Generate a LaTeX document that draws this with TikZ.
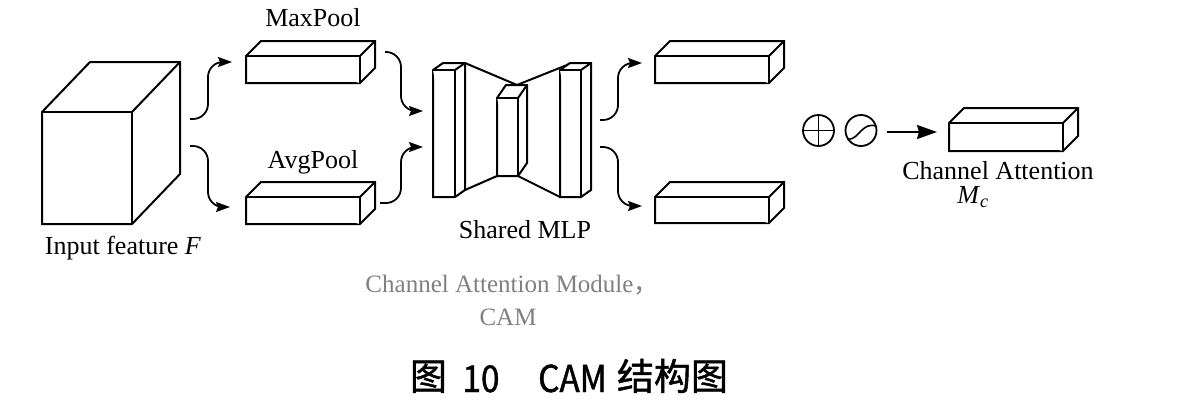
\documentclass[tikz,border=0pt]{standalone}
\usepackage{fontspec}
\setmainfont{Liberation Serif}
\newfontfamily\cjk{Noto Sans CJK SC}
\newfontfamily\cjkb[FakeBold=1.2]{Noto Sans CJK SC}
\newfontfamily\cjkn[FakeBold=1.2,FakeStretch=0.9]{Noto Sans CJK SC}
\usetikzlibrary{arrows.meta}
\definecolor{capgray}{RGB}{128,128,128}
\tikzset{
  box/.style={line width=2pt, fill=white, line join=miter},
  edge/.style={line width=1.8pt, rounded corners=15pt, -{Stealth[length=14pt,width=10pt,inset=2pt]}},
  bigarrow/.style={line width=1.8pt, -{Stealth[length=20pt,width=14pt,inset=2pt]}},
  lbl/.style={font=\fontsize{26}{30}\selectfont, inner sep=0pt},
  graylbl/.style={font=\fontsize{25}{30}\selectfont, inner sep=0pt, text=capgray},
  op/.style={circle, draw, line width=1.8pt, minimum size=31pt, inner sep=0pt},
  figcap/.style={inner sep=0pt, anchor=base},
}
% name, x1, y1, x2, y2, dx, dy  (front face corners, depth offset)
\newcommand\prismbox[7]{%
  \draw[box] (#2,#3) -- ({#2+#6},{#3+#7}) -- ({#4+#6},{#3+#7}) -- ({#4+#6},{#5+#7})
        -- (#4,#5) -- (#2,#5) -- cycle;
  \draw[box] (#2,#3) -- (#4,#3) -- (#4,#5);
  \draw[box] (#4,#3) -- ({#4+#6},{#3+#7});
  \coordinate (#1-w) at (#2,{(#3+#5)/2});
}
\begin{document}
\begin{tikzpicture}[x=1pt,y=-1pt]
\path[fill=white] (0,0) rectangle (1204,402);
\useasboundingbox (0,0) rectangle (1204,402);

% input cube
\prismbox{cube}{42}{112}{132}{224}{48}{-50}
\node[lbl] (inlbl) at (123,248) {Input feature \textit{F}};

% pooling boxes
\prismbox{mp}{246}{56}{360}{83}{15}{-15}
\node[lbl] (mplbl) at (313,18) {MaxPool};
\prismbox{ap}{246}{197}{360}{224}{15}{-15}
\node[lbl] (aplbl) at (313,162) {AvgPool};

% shared MLP
\coordinate (mtop) at (517,85);
\draw[box] (465,63) -- (mtop) -- (572,63);
\draw[box] (465,190) -- (497,176);
\draw[box] (518,176) -- (560,197);
\prismbox{mlpa}{433}{70}{455}{197}{10}{-7}
\prismbox{mlpb}{497}{98}{518}{176}{9}{-13}
\prismbox{mlpc}{560}{70}{581}{197}{10}{-7}
\node[lbl] (mlplbl) at (525,230) {Shared MLP};

% output boxes
\prismbox{r1}{655}{56}{769}{83}{15}{-15}
\prismbox{r2}{655}{197}{769}{223}{15}{-15}

% connectors
\coordinate (co1) at (190,119);
\coordinate (co2) at (190,146);
\coordinate (mpi) at (232,62);
\coordinate (api) at (230,207);
\coordinate (mpo) at (385,52);
\coordinate (apo) at (380,203);
\coordinate (mi1) at (423,111);
\coordinate (mi2) at (423,147);
\coordinate (mo1) at (600,120);
\coordinate (mo2) at (600,147);
\coordinate (r1i) at (642,63);
\coordinate (r2i) at (642,206);
\draw[edge] (co1) -| (208,62) -- (mpi);
\draw[edge] (co2) -| (208,207) -- (api);
\draw[edge] (mpo) -| (401,111) -- (mi1);
\draw[edge] (apo) -| (401,147) -- (mi2);
\draw[edge] (mo1) -| (618,63) -- (r1i);
\draw[edge] (mo2) -| (618,206) -- (r2i);

% operators
\node[op] (plus) at (818.5,130.5) {};
\draw[line width=1.8pt] (plus.north) -- (plus.south) (plus.west) -- (plus.east);
\node[op] (sig) at (861,130.5) {};
\draw[line width=1.6pt] (847,139) .. controls (855,140) and (857,134) .. (861,131)
      .. controls (865,127) and (869,124) .. (876,126);

% channel attention
\prismbox{ca}{949}{123}{1063}{151}{15}{-15}
\coordinate (caa) at (937,132);
\coordinate (sga) at (887,132);
\draw[bigarrow] (sga) -- (caa);
\node[lbl] (calbl) at (998,171) {Channel Attention};
\node[lbl] (mclbl) at (973,197) {\textit{M}\textsubscript{\textit{c}}};

% gray module caption
\node[graylbl] (cam1) at (512,285) {Channel Attention Module{\cjk ，}};
\node[graylbl] (cam2) at (508,317) {CAM};

% figure caption
\node[figcap, font=\cjkb\fontsize{37}{40}\selectfont] (fig1) at (428.5,390) {图};
\node[figcap, font=\cjkn\fontsize{37}{40}\selectfont] (fig2) at (481,392) {10};
\node[figcap, font=\cjkn\fontsize{37}{40}\selectfont] (fig3) at (572.5,392) {CAM};
\node[figcap, font=\cjkb\fontsize{37}{40}\selectfont] (fig4) at (672.5,390) {结构图};
\end{tikzpicture}
\end{document}
